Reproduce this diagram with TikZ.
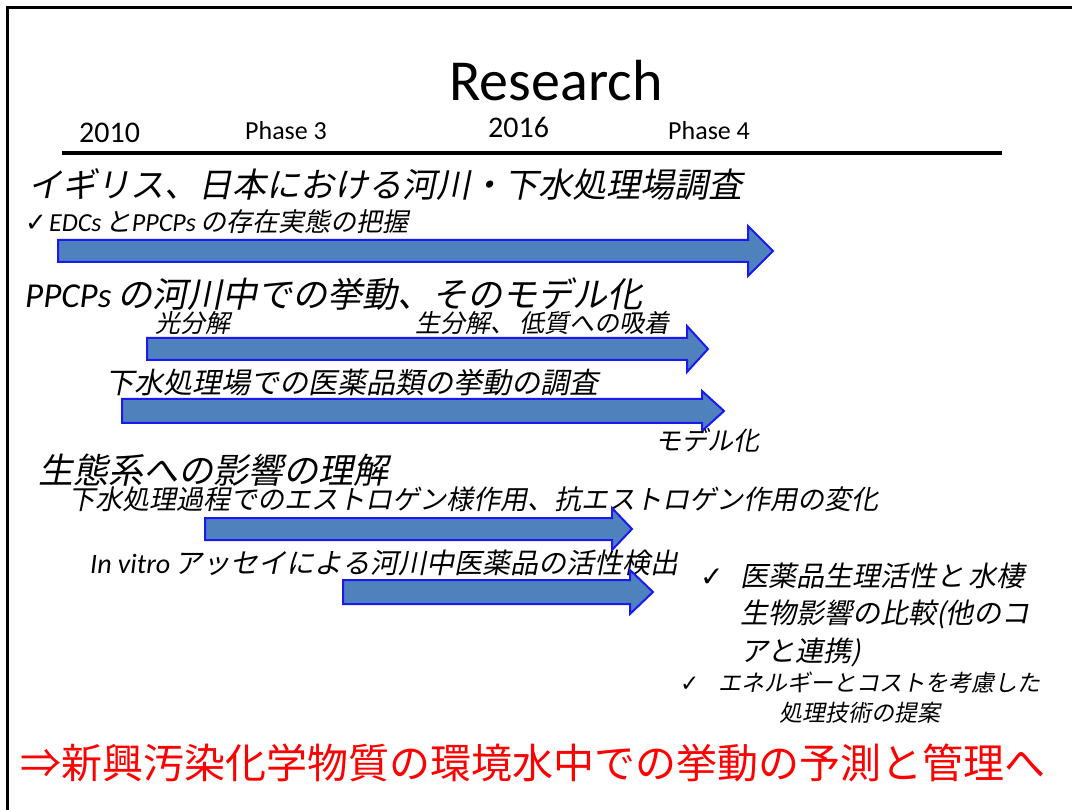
\documentclass[tikz,border=0pt]{standalone}
\usepackage{fontspec}
\setmainfont{Carlito}
\newfontfamily\lat{Carlito}
\newfontfamily\jp{Noto Sans CJK JP}
\newfontfamily\jpi[FakeSlant=0.2]{Noto Sans CJK JP}
\newfontfamily\sym{DejaVu Sans}
\definecolor{arrowfill}{HTML}{4F81BD}
\definecolor{arrowline}{HTML}{1A1AF0}
\definecolor{redtxt}{HTML}{FF0000}
\newcommand\fs[1]{\fontsize{#1}{#1}\selectfont}
\newcommand\la[1]{{\lat\itshape #1}}
\newcommand\blockarrow[7]{%
  \draw[barrow] (#1,#4-#5) -- (#2,#4-#5) -- (#2,#4-#6) -- (#3,#4) -- (#2,#4+#7) -- (#2,#4+#5) -- (#1,#4+#5) -- cycle;}
\begin{document}
\begin{tikzpicture}[x=1pt,y=-1pt,
  tx/.style={anchor=base west, inner sep=0pt},
  barrow/.style={fill=arrowfill, draw=arrowline, line width=2pt, line join=miter}]
\useasboundingbox (0,0) rectangle (1072,810);
\fill[white] (0,0) rectangle (1072,810);
% frame
\draw[line width=3pt] (7,810) -- (7,8) -- (1072,8);
% title
\node[tx, anchor=base] (title) at (556,101) {\fs{58}Research};
\node[tx] (y2010) at (79,143) {\fs{30}2010};
\node[tx] (ph3) at (245,140) {\fs{26}Phase 3};
\node[tx] (y2016) at (488,138) {\fs{30}2016};
\node[tx] (ph4) at (668,140) {\fs{26}Phase 4};
\draw[line width=4pt] (62,153) -- (1002,153);
% section 1
\node[tx] (h1) at (28,198) {\jpi\fs{34}イギリス、日本における河川・下水処理場調査};
\node[tx] (c1) at (25,232) {{\sym\fs{26}✓}\ \jpi\fs{26}\la{EDCs}\,と\la{PPCPs}\,の存在実態の把握};
\blockarrow{58}{748}{773}{251}{11}{25}{25}
% section 2
\node[tx] (h2) at (25,308) {\jpi\fs{35}\la{PPCPs}\,の河川中での挙動、そのモデル化};
\node[tx] (s21) at (155,333) {\jpi\fs{25}光分解};
\node[tx] (s22) at (415,333) {\jpi\fs{25}生分解、\,低質への吸着};
\blockarrow{147}{687}{708}{349}{11}{23}{23}
\node[tx] (s23) at (105,394) {\jpi\fs{29}下水処理場での医薬品類の挙動の調査};
\blockarrow{122}{702}{724}{411}{12}{20}{20}
\node[tx] (s24) at (655,450) {\jpi\fs{26}モデル化};
% section 3
\node[tx] (h3) at (38,483) {\jpi\fs{35}生態系への影響の理解};
\node[tx] (s31) at (68,510) {\jpi\fs{27}下水処理過程でのエストロゲン様作用、抗エストロゲン作用の変化};
\blockarrow{205}{612}{632}{529}{11}{21}{21}
\node[tx] (s32) at (90,573) {\jpi\fs{28}\la{In vitro}\,アッセイによる河川中医薬品の活性検出};
\blockarrow{343}{630}{653}{592}{12}{22}{22}
% right notes
\node[tx] (k1) at (700,586) {\sym\fs{28}✓};
\node[tx] (n1) at (740,586) {\jpi\fs{28}医薬品生理活性と\,水棲};
\node[tx] (n2) at (740,623) {\jpi\fs{28}生物影響の比較(他のコ};
\node[tx] (n3) at (740,661) {\jpi\fs{28}アと連携)};
\node[tx] (k2) at (680,691) {\sym\fs{23}✓};
\node[tx] (n4) at (718,691) {\jpi\fs{23}エネルギーとコストを考慮した};
\node[tx, anchor=base] (n5) at (860,721) {\jpi\fs{23}処理技術の提案};
% conclusion
\node[tx, text=redtxt] (concl) at (20,778) {\jp\fs{41}⇒新興汚染化学物質の環境水中での挙動の予測と管理へ};
\end{tikzpicture}
\end{document}
